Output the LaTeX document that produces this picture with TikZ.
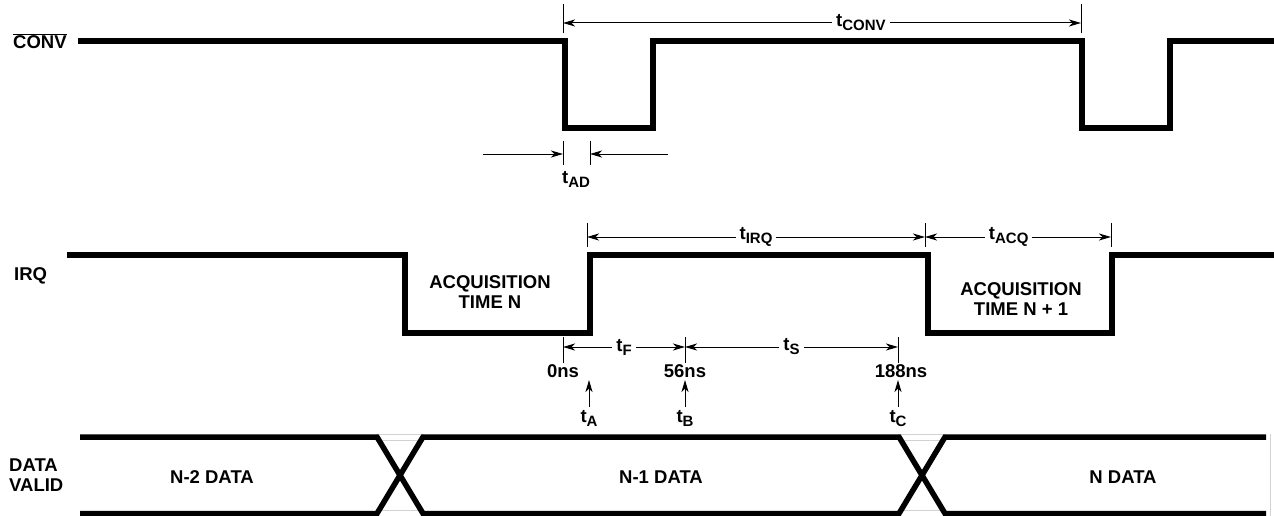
\documentclass[tikz,border=0pt]{standalone}
\usepackage{fontspec}
\setmainfont{Liberation Sans}
\usetikzlibrary{arrows.meta}
\newcommand{\tsub}[1]{t\raisebox{-4pt}{\fontsize{15}{15}\selectfont #1}}

\begin{document}
\begin{tikzpicture}[x=1pt, y=-1pt,
    every node/.style={font=\fontsize{18.5}{20}\selectfont\bfseries, inner sep=1pt},
    wave/.style={line width=5.5pt},
    thin/.style={line width=1pt},
    tip/.style={-{Stealth[length=12pt,width=7pt,inset=3.5pt]}},
    dim/.style={thin, {Stealth[length=12pt,width=7pt,inset=3.5pt]}-{Stealth[length=12pt,width=7pt,inset=3.5pt]}},
    gap/.style={fill=white, inner sep=4pt},
    ghost/.style={gray!35, line width=0.6pt}]
    \useasboundingbox (0,0) rectangle (1274,516);

    % CONV line
    \node[anchor=west] (convlbl) at (12,41) {$\overline{\mbox{CONV}}$};
    \draw[wave] (78,41) -- (565,41) -- (565,128) -- (653,128) -- (653,41)
        -- (1082,41) -- (1082,128) -- (1170,128) -- (1170,41) -- (1274,41);

    % t_CONV
    \draw[thin] (563,4) -- (563,33);
    \draw[thin] (1081,4) -- (1081,33);
    \draw[dim] (563,23) -- node[gap, pos=0.575] (tconv) {\tsub{CONV}} (1081,23);

    % t_AD
    \draw[thin] (563,141) -- (563,165);
    \draw[thin] (590,141) -- (590,165);
    \draw[thin, tip] (483,154) -- (563,154);
    \draw[thin, tip] (668,154) -- (590,154);
    \node[anchor=north] (tad) at (576,170) {\tsub{AD}};

    % IRQ line
    \node[anchor=west] (irqlbl) at (13,276) {IRQ};
    \draw[wave] (67,255) -- (405,255) -- (405,333) -- (590,333) -- (590,255)
        -- (928,255) -- (928,333) -- (1112,333) -- (1112,255) -- (1274,255);
    \node[align=center] (acqn) at (490,292) {ACQUISITION\\TIME N};
    \node[align=center] (acqnn) at (1021,299) {ACQUISITION\\TIME N + 1};

    % t_IRQ and t_ACQ
    \draw[thin] (587,223) -- (587,247);
    \draw[thin] (925,223) -- (925,247);
    \draw[thin] (1111,223) -- (1111,247);
    \draw[dim] (587,237) -- node[gap] (tirq) {\tsub{IRQ}} (925,237);
    \draw[dim] (925,237) -- node[gap, pos=0.45] (tacq) {\tsub{ACQ}} (1111,237);

    % t_F and t_S
    \draw[thin] (563,337) -- (563,363);
    \draw[thin] (685,337) -- (685,363);
    \draw[thin] (898,337) -- (898,363);
    \draw[dim] (563,347) -- node[gap] (tf) {\tsub{F}} (685,347);
    \draw[dim] (685,347) -- node[gap] (ts) {\tsub{S}} (898,347);
    \node (ns0) at (563,371) {0ns};
    \node (ns56) at (685,371) {56ns};
    \node (ns188) at (901,371) {188ns};

    % t_A, t_B, t_C markers
    \draw[thin, tip] (589,407) -- (589,380);
    \draw[thin, tip] (685,407) -- (685,380);
    \draw[thin, tip] (898,407) -- (898,380);
    \node[anchor=north] (ta) at (589,409) {\tsub{A}};
    \node[anchor=north] (tb) at (685,409) {\tsub{B}};
    \node[anchor=north] (tc) at (898,409) {\tsub{C}};

    % DATA VALID bus
    \node[anchor=west, align=left] (dvlbl) at (8,475) {DATA\\VALID};
    \draw[ghost] (376,434) -- (424,434) (376,440) -- (424,440) (376,510.5) -- (424,510.5);
    \draw[ghost] (898,434) -- (946,434) (898,440) -- (946,440) (898,510.5) -- (946,510.5);
    \draw[ghost] (1270,434) -- (1270,516);
    \draw[wave] (80,437) -- (377,437) -- (423,513.5) -- (899,513.5) -- (945,437) -- (1266,437);
    \draw[wave] (80,513.5) -- (377,513.5) -- (423,437) -- (899,437) -- (945,513.5) -- (1266,513.5);
    \node (dn2) at (212,477) {N-2 DATA};
    \node (dn1) at (661,477) {N-1 DATA};
    \node (dn0) at (1123,477) {N DATA};
\end{tikzpicture}
\end{document}
